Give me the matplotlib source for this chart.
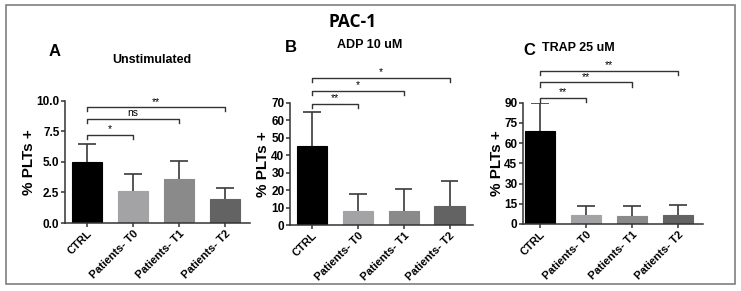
import matplotlib.pyplot as plt
from matplotlib.patches import Rectangle
from matplotlib.ticker import FormatStrFormatter

plt.rcParams['font.family'] = ['Liberation Sans', 'DejaVu Sans']
plt.rcParams['font.weight'] = 'bold'

groups = ['CTRL', 'Patients- T0', 'Patients- T1', 'Patients- T2']
colors = ['#000000', '#a3a3a5', '#8a8a8a', '#636363']

unstim_mean = [5.0, 2.65, 3.6, 2.0]
unstim_err = [1.45, 1.35, 1.45, 0.85]
adp_mean = [45.5, 7.8, 8.0, 10.8]
adp_err = [19.3, 10.2, 12.8, 14.2]
trap_mean = [69.0, 6.5, 6.0, 7.0]
trap_err = [20.5, 6.5, 7.5, 7.3]

# brackets: (target group, height, label)
unstim_sig = [(1, 7.2, '*'), (2, 8.5, 'ns'), (3, 9.45, '**')]
adp_sig = [(1, 69.2, '**'), (2, 76.9, '*'), (3, 84.3, '*')]
trap_sig = [(1, 93.7, '**'), (2, 105, '**'), (3, 113.7, '**')]

fig = plt.figure(figsize=(7.41, 2.91), dpi=100)
fig.patches.append(Rectangle((6 / 741, 1 - 284 / 291), 729 / 741, 279 / 291,
                             transform=fig.transFigure, fill=False,
                             edgecolor='#7f7f7f', linewidth=1.2))
fig.text(353 / 741, 1 - 22 / 291, 'PAC-1', ha='center', va='center',
         fontsize=12.5, fontweight='bold', family=['Open Sans', 'DejaVu Sans'])


def panel(rect, means, errs, sig, ylim, yticks, fmt, xlim, drop, letter,
          letter_xy, title, title_xy, lpad):
    ax = fig.add_axes(rect)
    x = list(range(len(groups)))
    ax.bar(x, means, width=0.66, color=colors, edgecolor=colors, linewidth=0.8)
    tops = [m + e for m, e in zip(means, errs)]
    ax.vlines(x, means, tops, color='#3a3a3a', linewidth=1.2)
    ax.hlines(tops, [i - 0.19 for i in x], [i + 0.19 for i in x],
              color='#3a3a3a', linewidth=1.2)
    ax.set_ylim(*ylim)
    ax.set_xlim(*xlim)
    ax.set_yticks(yticks)
    ax.yaxis.set_major_formatter(FormatStrFormatter(fmt))
    ax.set_xticks(x)
    ax.set_xticklabels(groups, rotation=45, ha='right', rotation_mode='anchor',
                       fontsize=8, fontweight='bold')
    for lab in ax.get_yticklabels():
        lab.set_fontsize(8.5)
        lab.set_fontweight('bold')
    for s in ['top', 'right']:
        ax.spines[s].set_visible(False)
    for s in ['left', 'bottom']:
        ax.spines[s].set_linewidth(1.1)
        ax.spines[s].set_color('#333333')
    ax.tick_params(width=1.1, length=3, color='#333333', pad=1)
    ax.set_ylabel('% PLTs +', fontsize=11, fontweight='bold', labelpad=lpad)
    for tgt, h, lab in sig:
        ax.plot([0, 0, tgt, tgt], [h - drop, h, h, h - drop], color='#333333',
                linewidth=1.0, clip_on=False)
        ax.text(tgt / 2, h + drop * 0.2, lab, ha='center', va='bottom',
                fontsize=7.5, fontweight='normal')
    fig.text(letter_xy[0] / 741, 1 - letter_xy[1] / 291, letter, ha='center',
             va='center', fontsize=12, fontweight='bold')
    fig.text(title_xy[0] / 741, 1 - title_xy[1] / 291, title, ha='center',
             va='center', fontsize=9, fontweight='bold')
    return ax


panel([65 / 741, 1 - 223 / 291, 185 / 741, 122.3 / 291], unstim_mean, unstim_err,
      unstim_sig, (0, 10), [0, 2.5, 5, 7.5, 10], '%.1f', (-0.478, 3.54), 0.3,
      'A', (55, 52), 'Unstimulated', (152, 60), 0)
panel([290 / 741, 1 - 225 / 291, 183 / 741, 122.3 / 291], adp_mean, adp_err,
      adp_sig, (0, 70), [0, 10, 20, 30, 40, 50, 60, 70], '%d', (-0.48, 3.51), 2.3,
      'B', (291, 48), 'ADP 10 uM', (370, 45), 1)
panel([523 / 741, 1 - 224 / 291, 180 / 741, 121.3 / 291], trap_mean, trap_err,
      trap_sig, (0, 90), [0, 15, 30, 45, 60, 75, 90], '%d', (-0.37, 3.54), 3.0,
      'C', (529, 50), 'TRAP 25 uM', (578, 48), 0)

fig.savefig('out.png', dpi=100)
